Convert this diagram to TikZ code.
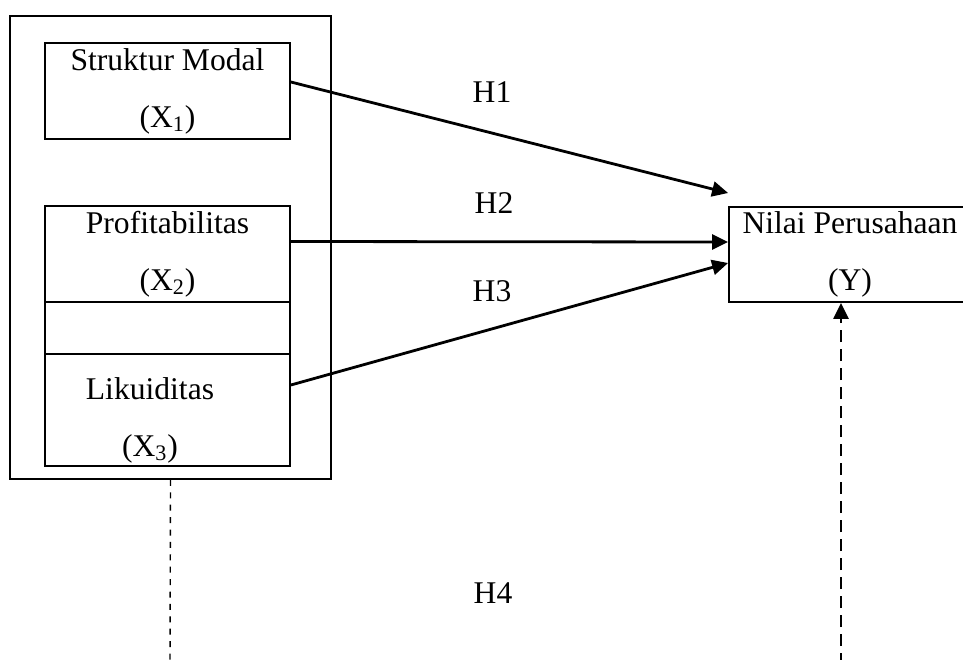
\documentclass[tikz,border=0pt]{standalone}
\usepackage{fontspec}
\setmainfont{Liberation Serif}
\usetikzlibrary{arrows.meta}

\begin{document}
\begin{tikzpicture}[x=0.5pt,y=-0.5pt,
    font=\fontsize{15.8pt}{28.5pt}\selectfont,
    var/.style={draw,line width=0.9pt,inner sep=0pt,align=center},
    hyp/.style={line width=1.4pt,-{Triangle[length=8pt,width=7.5pt]}}]
    \clip (0,0) rectangle (963,659);
    % variabel independen
    \node[var,minimum width=160.5pt,minimum height=231.5pt] (outer) at (170.5,247.5) {};
    \node[var,minimum width=122.5pt,minimum height=48pt] (x1) at (167.5,91) {Struktur Modal\\(X\textsubscript{1})};
    \node[var,minimum width=122.5pt,minimum height=48pt] (x2) at (167.5,254) {Profitabilitas\\(X\textsubscript{2})};
    \node[var,minimum width=122.5pt,minimum height=26pt] (gap) at (167.5,328) {};
    \node[var,minimum width=122.5pt,minimum height=56pt] (x3) at (167.5,410) {};
    \node[align=center,inner sep=0pt] (x3text) at (150,420) {Likuiditas\\(X\textsubscript{3})};
    % variabel dependen
    \node[var,minimum width=121pt,minimum height=47.5pt] (y) at (850,254.5) {Nilai Perusahaan\\(Y)};
    % hipotesis
    \node (h1) at (492,92) {H1};
    \node (h2) at (494,203) {H2};
    \node (h3) at (492,291) {H3};
    \node (h4) at (493,593) {H4};
    \draw[hyp] ([yshift=4.5pt]x1.east) to ([yshift=30.75pt]y.west);
    \draw[hyp] ([yshift=6.25pt]x2.east) to ([yshift=6.25pt]y.west);
    \draw[hyp] ([yshift=12.5pt]x3.east) to ([yshift=-4.25pt]y.west);
    \coordinate (endL) at (170,665);
    \coordinate (endR) at (841,665);
    \draw[line width=0.7pt,dash pattern=on 3pt off 3.2pt] (outer.south) to (endL);
    \draw[line width=1.2pt,dash pattern=on 6pt off 3.5pt,-{Triangle[length=8pt,width=7.5pt]}] (endR) to ([xshift=-4.5pt]y.south);
\end{tikzpicture}
\end{document}
